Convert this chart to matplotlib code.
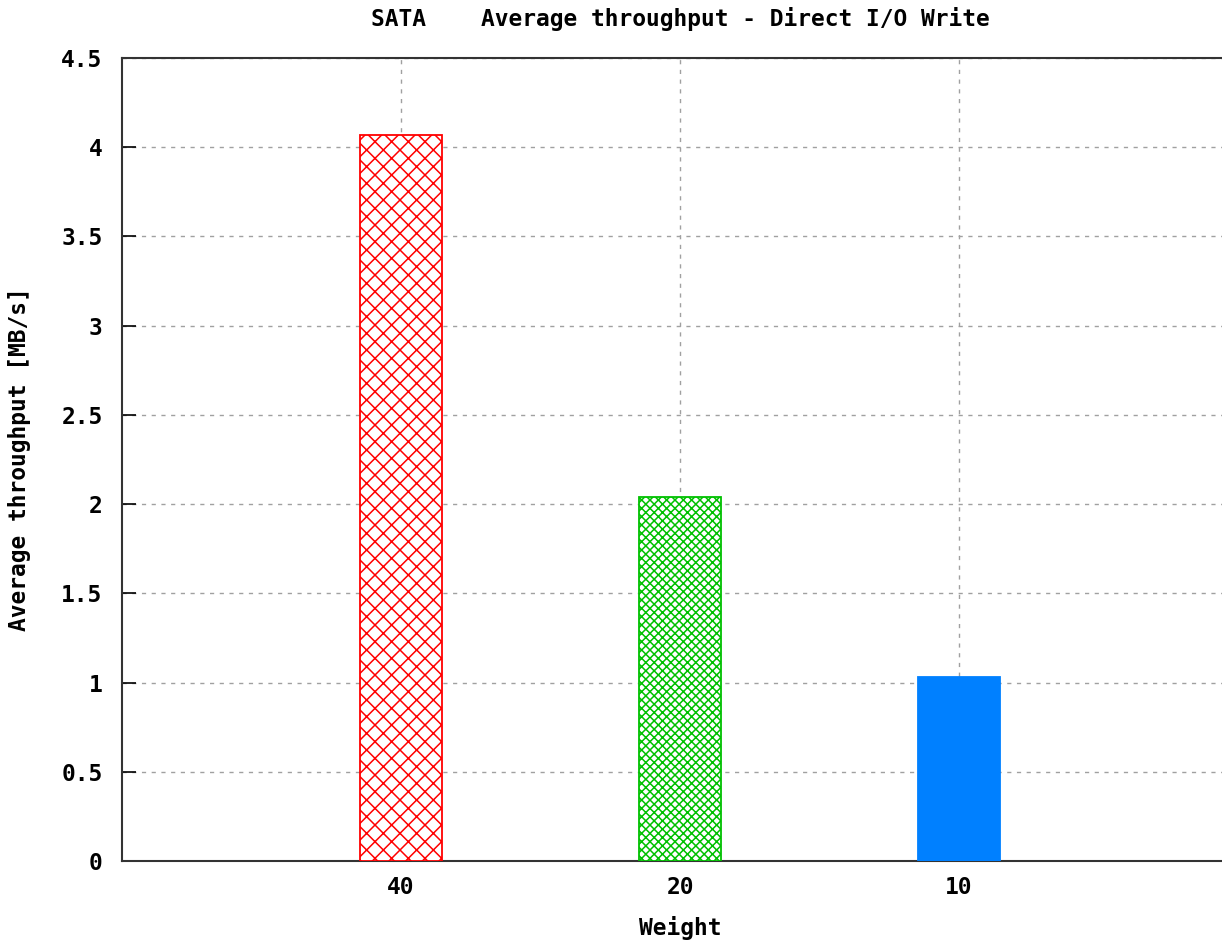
import matplotlib
matplotlib.use("Agg")
import matplotlib.pyplot as plt

categories = ["40", "20", "10"]
values = [4.07, 2.04, 1.03]
colors = ["#ff0000", "#00c000", "#0080ff"]
hatches = ["xx", "xxxx", None]
yticks = [0, 0.5, 1, 1.5, 2, 2.5, 3, 3.5, 4, 4.5]
ytick_labels = ["0", "0.5", "1", "1.5", "2", "2.5", "3", "3.5", "4", "4.5"]

plt.rcParams["font.family"] = ["DejaVu Sans Mono"]
plt.rcParams["font.weight"] = "bold"
plt.rcParams["hatch.linewidth"] = 1.1

FS = 16.5
W, H = 1222, 941
fig = plt.figure(figsize=(W / 100, H / 100), dpi=100)
left, right, top, bottom = 122, 1238, 58, 861
ax = fig.add_axes([left / W, (H - bottom) / H, (right - left) / W, (bottom - top) / H])

positions = list(range(1, len(categories) + 1))
for p, v, c, h in zip(positions, values, colors, hatches):
    if h:
        ax.bar(p, v, width=0.295, facecolor="white", edgecolor=c, hatch=h, linewidth=1.3, zorder=3)
    else:
        ax.bar(p, v, width=0.295, facecolor=c, edgecolor=c, linewidth=1.3, zorder=3)

ax.set_xlim(0, 4)
ax.set_ylim(0, 4.5)
ax.set_xticks(positions)
ax.set_xticklabels(categories)
ax.set_yticks(yticks)
ax.set_yticklabels(ytick_labels)
ax.grid(True, color="#a0a0a0", linestyle=(0, (3, 4)), linewidth=1.0, zorder=0)
ax.tick_params(direction="in", length=10, width=1.2, labelsize=FS, colors="black", pad=14)
ax.tick_params(axis="x", pad=11)
for s in ax.spines.values():
    s.set_linewidth(1.5)
    s.set_color("#333333")

ax.set_xlabel("Weight", fontsize=FS, fontweight="bold", labelpad=12)
ax.set_ylabel("Average throughput [MB/s]", fontsize=FS, fontweight="bold", labelpad=22)
ax.set_title("SATA    Average throughput - Direct I/O Write", fontsize=FS, fontweight="bold", pad=23)

fig.savefig("out.png", dpi=100)
